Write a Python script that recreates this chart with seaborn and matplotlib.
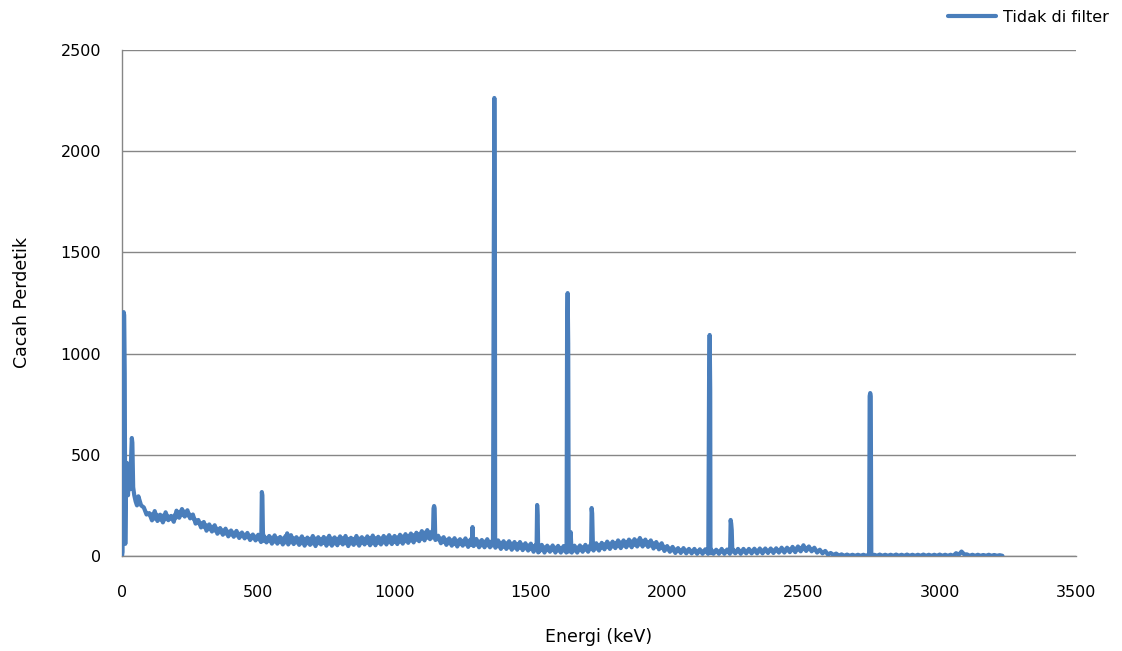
import pandas as pd
import matplotlib
matplotlib.use("Agg")
import matplotlib.pyplot as plt
import seaborn as sns

# Continuum, counts per second. The spectrum swings between an upper and a lower
# level; upper readings fall every 20 keV from 60 keV, lower readings 10 keV later.
continuum_start_kev = 60
continuum_step_kev = 20
continuum_high_cps = [
    295, 240, 212, 222, 204, 216, 198, 224, 232, 226,   # 60 - 240
    205, 178, 168, 156, 152, 138, 135, 126, 124, 116,   # 260 - 440
    114, 106, 105, 100, 99, 102, 94, 99, 103, 93,       # 460 - 640
    97, 91, 99, 93, 94, 100, 92, 97, 99, 90,            # 660 - 840
    99, 93, 97, 101, 95, 99, 103, 99, 105, 108,         # 860 - 1040
    111, 115, 123, 128, 126, 100, 93, 87, 88, 83,       # 1060 - 1240
    87, 83, 84, 79, 83, 77, 77, 73, 73, 69,             # 1260 - 1440
    69, 63, 61, 57, 55, 51, 52, 50, 49, 50,             # 1460 - 1640
    51, 52, 55, 57, 63, 65, 71, 71, 77, 77,             # 1660 - 1840
    81, 83, 89, 81, 77, 69, 63, 49, 45, 39,             # 1860 - 2040
    39, 35, 35, 33, 33, 34, 31, 35, 32, 34,             # 2060 - 2240
    35, 35, 35, 36, 37, 37, 37, 38, 41, 41,             # 2260 - 2440
    45, 47, 53, 47, 41, 31, 25, 15, 12, 8,              # 2460 - 2640
    7, 6, 6, 6, 7, 6, 7, 6, 6, 7,                       # 2660 - 2840
    6, 7, 6, 6, 7, 6, 6, 7, 6, 6,                       # 2860 - 3040
    14, 22, 8, 6, 6, 5, 6, 5, 4,                        # 3060 - 3220
]
continuum_low_cps = [
    250, 205, 176, 173, 166, 177, 169, 189, 195, 186,   # 70 - 250
    160, 141, 125, 121, 110, 105, 97, 95, 89, 87,       # 270 - 450
    79, 77, 69, 67, 61, 61, 57, 57, 59, 55,             # 470 - 650
    51, 55, 49, 57, 51, 51, 53, 57, 49, 55,             # 670 - 850
    51, 57, 53, 53, 57, 57, 59, 59, 61, 65,             # 870 - 1050
    67, 73, 77, 83, 79, 63, 55, 51, 47, 51,             # 1070 - 1250
    45, 49, 43, 43, 43, 41, 35, 35, 31, 31,             # 1270 - 1450
    29, 27, 21, 21, 17, 21, 17, 17, 17, 17,             # 1470 - 1650
    17, 21, 21, 27, 27, 33, 35, 39, 39, 43,             # 1670 - 1850
    43, 47, 47, 45, 37, 33, 25, 21, 15, 15,             # 1870 - 2050
    13, 13, 11, 11, 11, 11, 11, 11, 11, 13,             # 2070 - 2250
    11, 13, 13, 13, 13, 15, 15, 17, 17, 19,             # 2270 - 2450
    19, 23, 25, 23, 17, 13, 7, 5, 2, 1,                 # 2470 - 2650
    1, 1, 1, 1, 2, 1, 1, 1, 1, 1,                       # 2670 - 2850
    1, 1, 1, 1, 1, 1, 1, 1, 1, 1,                       # 2870 - 3050
    6, 8, 1, 1, 1, 1, 1, 1, 1,                          # 3070 - 3230
]

# Low-energy region and full-energy peaks, channel by channel
peak_kev = [
    0, 2, 4, 6, 8, 10, 12, 15, 18, 22, 26, 30, 33, 36, 38, 41, 45, 50, 55,
    511, 513, 515, 517, 519,
    603, 606, 609,
    1141, 1143, 1145, 1147, 1149,
    1283, 1286, 1289,
    1361, 1364, 1366, 1368, 1369,
    1521, 1523, 1525, 1527, 1529,
    1631, 1633, 1635, 1637, 1639,
    1643, 1646, 1649,
    1721, 1723, 1725, 1728,
    2151, 2154, 2156, 2158, 2159,
    2231, 2233, 2235, 2237, 2239,
    2741, 2743, 2745, 2747, 2749,
]
peak_cps = [
    0, 20, 700, 1205, 1190, 900, 60, 420, 460, 300, 440, 330, 470, 583, 560, 340, 300, 270, 250,
    80, 316, 300, 120, 75,
    75, 112, 70,
    110, 235, 247, 236, 105,
    55, 143, 52,
    60, 1500, 2263, 1700, 58,
    40, 252, 200, 18, 35,
    32, 1150, 1299, 1050, 22,
    30, 118, 30,
    36, 237, 210, 32,
    22, 900, 1092, 820, 15,
    25, 178, 160, 128, 30,
    5, 790, 805, 790, 5,
]

high_kev = [continuum_start_kev + continuum_step_kev * i for i in range(len(continuum_high_cps))]
low_kev = [continuum_start_kev + continuum_step_kev // 2 + continuum_step_kev * i
           for i in range(len(continuum_low_cps))]

spectrum = pd.concat(
    [
        pd.DataFrame({"Energi": high_kev, "Cacah": continuum_high_cps}),
        pd.DataFrame({"Energi": low_kev, "Cacah": continuum_low_cps}),
        pd.DataFrame({"Energi": peak_kev, "Cacah": peak_cps}),
    ],
    ignore_index=True,
).sort_values("Energi", kind="mergesort").reset_index(drop=True)

sns.set_theme(style="white")
plt.rcParams["font.family"] = ["DejaVu Sans"]

grey = "#868686"
text_col = "#000000"
line_col = "#4a7ebb"

fig = plt.figure(figsize=(11.22, 6.51), dpi=100)
ax = fig.add_axes([122 / 1122, 1 - 556 / 651, (1076 - 122) / 1122, (556 - 50) / 651])

# Solid band between the upper and lower continuum readings
ax.fill(high_kev + low_kev[::-1], continuum_high_cps + continuum_low_cps[::-1],
        color=line_col, linewidth=0, zorder=2)

sns.lineplot(
    data=spectrum, x="Energi", y="Cacah", ax=ax,
    estimator=None, sort=False, color=line_col, linewidth=3.0,
    label="Tidak di filter", solid_joinstyle="round", solid_capstyle="round", zorder=3,
)

ax.set_xlim(0, 3500)
ax.set_ylim(0, 2500)
ax.set_xticks(range(0, 3501, 500))
ax.set_yticks(range(0, 2501, 500))

ax.grid(axis="y", color=grey, linewidth=1.0)
ax.grid(axis="x", visible=False)
ax.set_axisbelow(True)

for side in ("top", "right"):
    ax.spines[side].set_visible(False)
for side in ("left", "bottom"):
    ax.spines[side].set_color(grey)
    ax.spines[side].set_linewidth(1.0)

ax.tick_params(axis="both", which="major", direction="out", length=7, width=1.0,
               color=grey, labelsize=11.5, labelcolor=text_col)
ax.tick_params(axis="x", pad=14)
ax.tick_params(axis="y", pad=8)

ax.set_xlabel("Energi (keV)", fontsize=12.5, color=text_col, labelpad=20)
ax.set_ylabel("Cacah Perdetik", fontsize=12.5, color=text_col, labelpad=21)

leg = ax.legend(loc="upper right", bbox_to_anchor=(1118 / 1122, 1.0), bbox_transform=fig.transFigure,
                frameon=False, fontsize=11.5, handlelength=3.0, handletextpad=0.4,
                borderaxespad=0.2, labelcolor=text_col)
for h in leg.get_lines():
    h.set_linewidth(3.0)

fig.savefig("out.png", dpi=100, facecolor="white")
